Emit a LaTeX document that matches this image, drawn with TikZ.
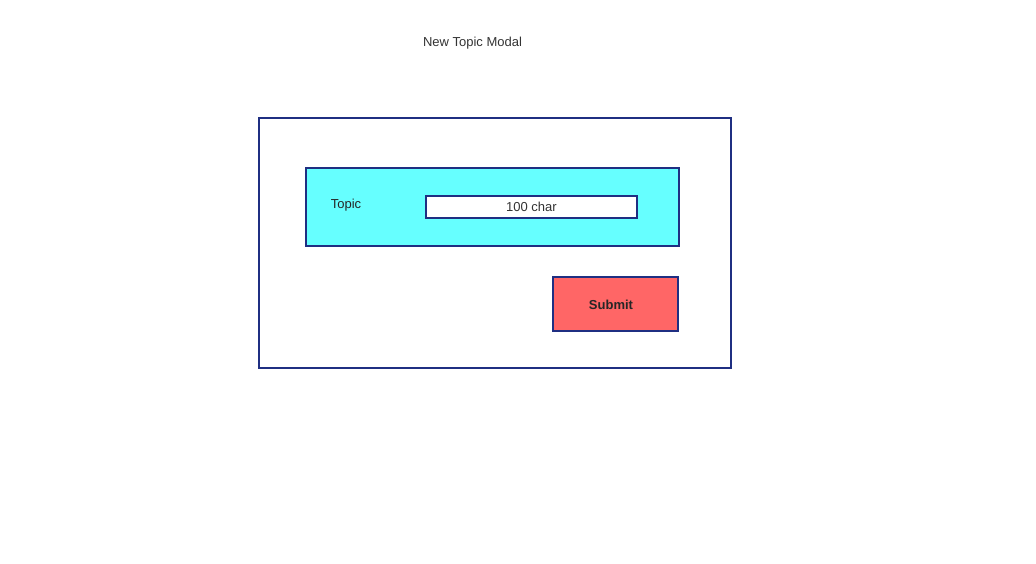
\documentclass[tikz,border=0pt]{standalone}
\usepackage{fontspec}
\setmainfont{Liberation Sans}
\definecolor{frame}{HTML}{1F2F82}
\definecolor{cyanfill}{HTML}{66FFFF}
\definecolor{redfill}{HTML}{FF6666}
\definecolor{txt}{HTML}{333333}
\begin{document}
\begin{tikzpicture}[x=1pt,y=-1pt,
  box/.style={draw=frame,line width=2pt},
  lbl/.style={text=txt,font=\fontsize{13}{15}\selectfont,inner sep=0pt}]
\useasboundingbox (0,0) rectangle (1036,563);
\draw[box] (259,118) rectangle (731,368);
\node[box,fill=cyanfill,minimum width=373pt,minimum height=78pt,inner sep=0pt] (panel) at (492.5,207) {};
\node[box,fill=white,minimum width=211pt,minimum height=22pt,inner sep=0pt,text=txt,font=\fontsize{13}{15}\selectfont] (input) at (531.5,207) {100 char};
\node[box,fill=redfill,minimum width=125pt,minimum height=54pt,inner sep=0pt] (submit) at (615.5,304) {};
\node[font=\bfseries\fontsize{13}{15}\selectfont,text=black!85,inner sep=0pt] (submitlbl) at (611,304.5) {Submit};
\node[lbl] (title) at (472.5,43.5) {New Topic Modal};
\node[lbl,text=black!85] (topic) at (346,205) {Topic};
\end{tikzpicture}
\end{document}
